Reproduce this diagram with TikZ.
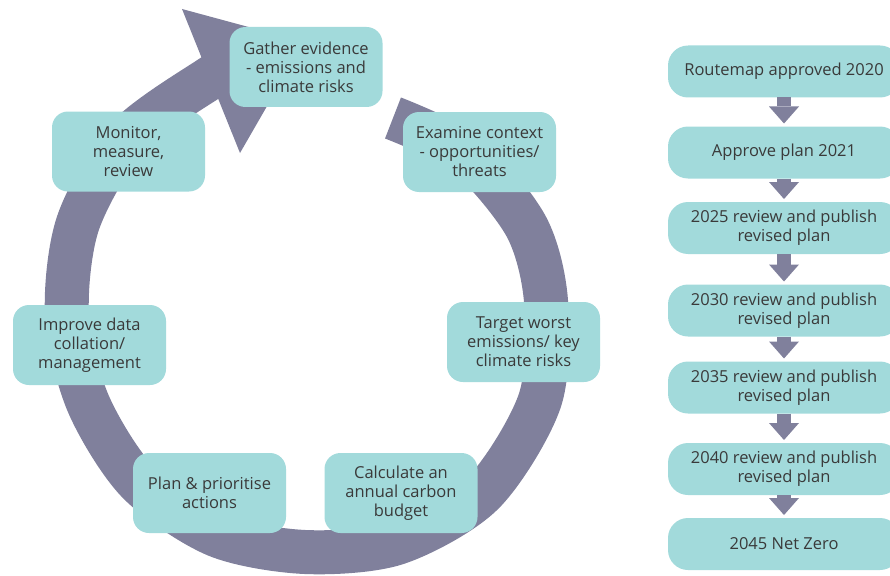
\documentclass[tikz,border=0pt]{standalone}
\usepackage{fontspec}
\setmainfont{Open Sans}
\usetikzlibrary{arrows.meta}
\definecolor{ringgrey}{RGB}{128,128,156}
\definecolor{boxteal}{RGB}{162,218,219}
\definecolor{textgrey}{RGB}{58,58,58}

\begin{document}
\begin{tikzpicture}[x=1pt, y=-1pt,
    every node/.style={font=\fontsize{16.5}{19}\selectfont, align=center, text=textgrey},
    cyclebox/.style={fill=boxteal, rounded corners=16pt, minimum width=153pt, minimum height=80pt, inner sep=0pt, outer sep=0pt},
    planbox/.style={fill=boxteal, rounded corners=20pt, minimum width=232pt, minimum height=52pt, inner sep=0pt, outer sep=0pt},
    flowarrow/.style={draw=ringgrey, line width=14pt, -{Triangle[width=30pt, length=17pt, line width=0pt]}, shorten >=3pt}]
        % Page frame - right boxes run over the edge
        \useasboundingbox (0,0) rectangle (890,575);
        \clip (0,0) rectangle (890,575);

        % Ring: tail at the top right, head at the top left
        \draw[ringgrey, line width=44pt] plot[smooth] coordinates {(393,118) (466,154) (526,226) (546,301) (540,400) (483,493) (397,543) (305,552) (216,535) (138,482) (88,403) (67,315) (78,223) (127.5,137.5) (210,78) (225,72)};
        \fill[ringgrey] (182,9) -- (304,42) -- (240,153) -- cycle;

        % Cycle steps, clockwise from the top
        \node[cyclebox] (gather) at (306,67) {Gather evidence\\- emissions and\\climate risks};
        \node[cyclebox] (examine) at (479.5,152) {Examine context\\- opportunities/\\threats};
        \node[cyclebox] (target) at (523.5,342) {Target worst\\emissions/ key\\climate risks};
        \node[cyclebox] (calc) at (401,493) {Calculate an\\annual carbon\\budget};
        \node[cyclebox] (plan) at (209.5,493) {Plan \& prioritise\\actions};
        \node[cyclebox] (improve) at (89.5,345) {Improve data\\collation/\\management};
        \node[cyclebox] (monitor) at (128.5,151.5) {Monitor,\\measure,\\review};

        % Timeline column
        \node[planbox] (r2020) at (784,71.5) {Routemap approved 2020};
        \node[planbox] (r2021) at (784,152.5) {Approve plan 2021};
        \node[planbox] (r2025) at (784,228) {2025 review and publish\\revised plan};
        \node[planbox] (r2030) at (784,310.5) {2030 review and publish\\revised plan};
        \node[planbox] (r2035) at (784,387.5) {2035 review and publish\\revised plan};
        \node[planbox] (r2040) at (784,469) {2040 review and publish\\revised plan};
        \node[planbox] (r2045) at (784,544) {2045 Net Zero};

        % Down arrows between the years
        \draw[flowarrow] (r2020) -- (r2021);
        \draw[flowarrow] (r2021) -- (r2025);
        \draw[flowarrow] (r2025) -- (r2030);
        \draw[flowarrow] (r2030) -- (r2035);
        \draw[flowarrow] (r2035) -- (r2040);
        \draw[flowarrow] (r2040) -- (r2045);
\end{tikzpicture}
\end{document}
